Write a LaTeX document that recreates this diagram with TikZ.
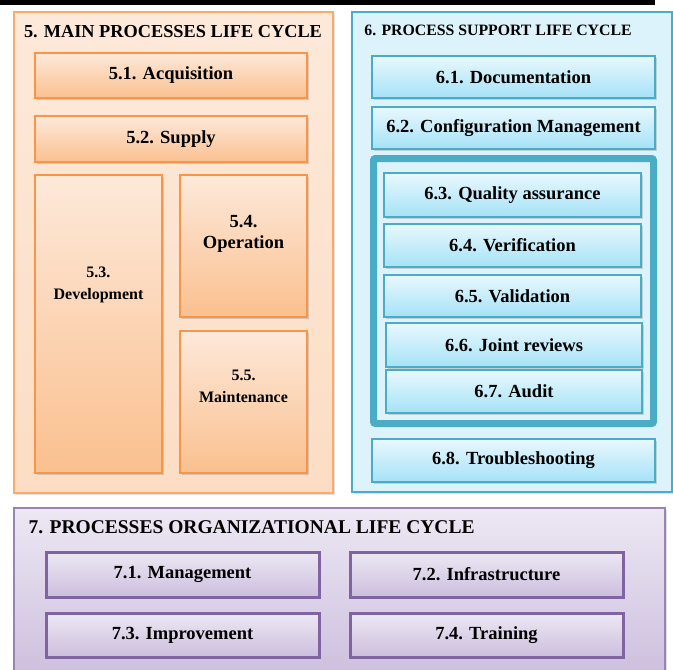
\documentclass[tikz,border=0pt]{standalone}
\usepackage{fontspec}
\setmainfont{Liberation Serif}
\usetikzlibrary{shadows}

\definecolor{orangeline}{HTML}{F79646}
\definecolor{orangetop}{HTML}{FDE9DA}
\definecolor{orangebot}{HTML}{FAC08F}
\definecolor{orangeback}{HTML}{FCDDC4}
\definecolor{blueline}{HTML}{4BACC6}
\definecolor{bluetop}{HTML}{E9F8FD}
\definecolor{bluebot}{HTML}{A5E2F7}
\definecolor{blueback}{HTML}{DDF3FB}
\definecolor{purpleline}{HTML}{8064A2}
\definecolor{purpletop}{HTML}{EDE8F4}
\definecolor{purplebot}{HTML}{CCBEDD}

\begin{document}
\begin{tikzpicture}
  [x=1pt,y=-1pt,
   bigfont/.style={font=\fontsize{18.5}{21}\selectfont\bfseries},
   smallfont/.style={font=\fontsize{16}{22}\selectfont\bfseries},
   group/.style={rectangle,line width=1.2pt,inner sep=0pt,
                 drop shadow={shadow xshift=1.5pt,shadow yshift=-1.5pt,opacity=0.25}},
   item/.style={rectangle,line width=2.6pt,inner sep=0pt,bigfont,
                drop shadow={shadow xshift=1.5pt,shadow yshift=-2pt,opacity=0.3}},
   mainbox/.style={item,draw=orangeline,top color=orangetop,bottom color=orangebot},
   supportbox/.style={item,draw=blueline,top color=bluetop,bottom color=bluebot,line width=2pt},
   orgbox/.style={item,draw=purpleline,top color=purpletop,bottom color=purplebot,line width=3pt}]
  \useasboundingbox (0,0) rectangle (673,670);
  \clip (0,0) rectangle (673,670);
  \fill[black] (0,0) rectangle (655,5);

  % main processes
  \node (main) at (173.5,252.5) [group,draw=orangeline!80,top color=orangetop,bottom color=orangeback,
    minimum width=319pt,minimum height=481pt] {};
  \node (maintitle) at (173,32) [font=\fontsize{18.3}{20}\selectfont\bfseries] {5. MAIN PROCESSES LIFE CYCLE};
  \node (acq) at (171,75.5) [mainbox,minimum width=272pt,minimum height=45pt] {5.1. Acquisition};
  \node (sup) at (171,139) [mainbox,minimum width=272pt,minimum height=46pt] {5.2. Supply};
  \node (dev) at (98.5,324) [mainbox,minimum width=127pt,minimum height=298pt] {};
  \node (devtxt) at (98.5,285) [align=center,smallfont] {5.3.\\Development};
  \node (ope) at (243.5,246) [mainbox,minimum width=127pt,minimum height=142pt] {};
  \node (opetxt) at (243.5,234) [align=center,bigfont] {5.4.\\Operation};
  \node (mai) at (243.5,402) [mainbox,minimum width=127pt,minimum height=142pt] {};
  \node (maitxt) at (243.5,386) [align=center,smallfont] {5.5.\\Maintenance};

  % support processes
  \node (supp) at (512,252) [group,draw=blueline,fill=blueback,
    minimum width=320pt,minimum height=480pt] {};
  \node (supptitle) at (498,30) [font=\fontsize{15.8}{18}\selectfont\bfseries] {6. PROCESS SUPPORT LIFE CYCLE};
  \node (doc) at (513.5,77) [supportbox,minimum width=283pt,minimum height=42pt] {6.1. Documentation};
  \node (conf) at (513.5,128) [supportbox,minimum width=283pt,minimum height=42pt] {6.2. Configuration Management};
  \node (frame) at (513.5,291) [rectangle,draw=blueline,line width=7pt,fill=blueback,rounded corners=2pt,
    minimum width=280pt,minimum height=265pt,
    drop shadow={shadow xshift=1.5pt,shadow yshift=-2pt,opacity=0.3}] {};
  \node (qual) at (512.5,195) [supportbox,minimum width=257pt,minimum height=44pt] {6.3. Quality assurance};
  \node (veri) at (512.5,245.5) [supportbox,minimum width=257pt,minimum height=43pt] {6.4. Verification};
  \node (vali) at (512.5,296) [supportbox,minimum width=257pt,minimum height=42pt] {6.5. Validation};
  \node (joint) at (514,345) [supportbox,minimum width=256pt,minimum height=44pt] {6.6. Joint reviews};
  \node (audit) at (514,391.5) [supportbox,minimum width=256pt,minimum height=43pt] {6.7. Audit};
  \node (trbl) at (513.5,460.5) [supportbox,minimum width=283pt,minimum height=43pt] {6.8. Troubleshooting};

  % organizational processes
  \node (org) at (339.5,594) [group,draw=purpleline!80,top color=purpletop,bottom color=purplebot,
    minimum width=651pt,minimum height=172pt] {};
  \node (orgtitle) at (25,527) [anchor=west,font=\fontsize{19.5}{22}\selectfont\bfseries] {7. PROCESSES ORGANIZATIONAL LIFE CYCLE};
  \node (mgmt) at (182.5,574.5) [orgbox,minimum width=273pt,minimum height=45pt] {7.1. Management};
  \node (infra) at (486.5,574.5) [orgbox,minimum width=273pt,minimum height=45pt] {7.2. Infrastructure};
  \node (impr) at (182.5,635) [orgbox,minimum width=273pt,minimum height=44pt] {7.3. Improvement};
  \node (train) at (486.5,635) [orgbox,minimum width=273pt,minimum height=44pt] {7.4. Training};
\end{tikzpicture}
\end{document}
